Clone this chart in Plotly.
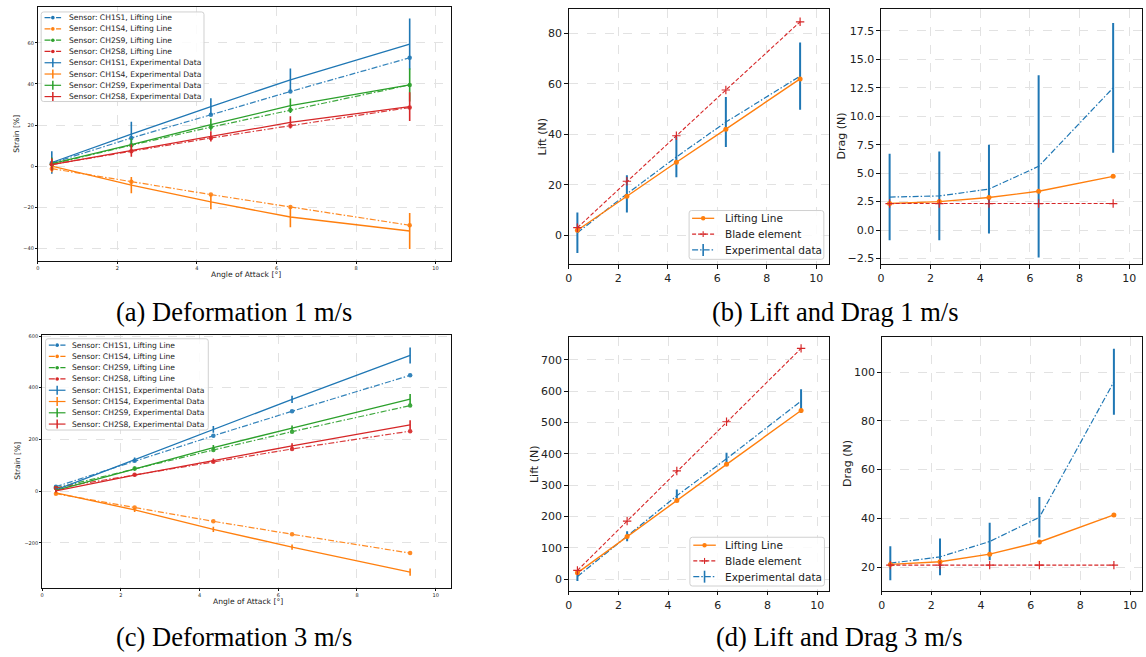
import plotly.graph_objects as go

W, H = 1146, 657

# ---------------- data ----------------
aoa = [0.35, 2.35, 4.35, 6.35, 9.35]
sensor_names = ["CH1S1", "CH1S4", "CH2S9", "CH2S8"]
sensor_colors = ["#1f77b4", "#ff7f0e", "#2ca02c", "#d62728"]

# (a) strain, 1 m/s  -- lifting line
ll1_ch1s1 = [1.5, 13.7, 25.0, 36.3, 52.7]
ll1_ch1s4 = [-1.2, -7.6, -13.8, -19.8, -28.7]
ll1_ch2s9 = [1.0, 10.2, 19.0, 27.3, 39.5]
ll1_ch2s8 = [0.8, 7.3, 13.7, 19.7, 28.5]
# (a) strain, 1 m/s  -- experimental
ex1_ch1s1 = [1.8, 15.6, 29.0, 42.0, 59.4]
ex1_ch1s4 = [0.0, -9.2, -17.4, -24.7, -31.5]
ex1_ch2s9 = [1.2, 10.5, 20.2, 29.4, 39.5]
ex1_ch2s8 = [0.8, 7.6, 14.5, 21.3, 29.0]
er1_ch1s1 = [5.5, 6.0, 4.0, 5.5, 12.4]
er1_ch1s4 = [3.0, 4.0, 3.5, 5.0, 8.7]
er1_ch2s9 = [3.0, 3.0, 3.0, 3.5, 8.0]
er1_ch2s8 = [3.0, 3.0, 2.5, 3.0, 7.0]

# (c) strain, 3 m/s  -- lifting line
ll3_ch1s1 = [17, 117, 214, 309, 448]
ll3_ch1s4 = [-10, -64, -117, -167, -240]
ll3_ch2s9 = [12, 87, 159, 230, 331]
ll3_ch2s8 = [12, 63, 114, 163, 232]
# (c) strain, 3 m/s  -- experimental
ex3_ch1s1 = [5, 122, 239, 355, 525]
ex3_ch1s4 = [-7, -73, -148, -217, -314]
ex3_ch2s9 = [3, 87, 168, 244, 356]
ex3_ch2s8 = [1, 62, 118, 175, 256]
er3_ch1s1 = [8, 8, 13, 14, 31]
er3_ch1s4 = [6, 8, 10, 10, 14]
er3_ch2s9 = [6, 8, 10, 10, 20]
er3_ch2s8 = [6, 6, 8, 10, 18]

# (b) lift / drag 1 m/s
lift1_ll = [2.0, 15.5, 28.9, 42.0, 61.9]
lift1_be = [3.0, 21.4, 39.4, 57.5, 84.5]
lift1_ex = [1.0, 16.4, 31.0, 44.8, 63.0]
lift1_er = [8.0, 7.4, 8.0, 9.9, 13.3]
drag1_ll = [2.33, 2.5, 2.86, 3.41, 4.72]
drag1_be = [2.33, 2.33, 2.33, 2.33, 2.33]
drag1_ex = [2.9, 3.0, 3.6, 5.6, 12.5]
drag1_er = [3.8, 3.9, 3.9, 8.0, 5.7]

# (d) lift / drag 3 m/s
lift3_ll = [20, 136, 251, 366, 538]
lift3_be = [27.5, 185, 345, 502, 736]
lift3_ex = [8, 137, 266, 384, 568]
lift3_er = [14, 16, 20, 19, 38]
drag3_ll = [21.1, 22.2, 25.3, 30.3, 41.4]
drag3_be = [20.8, 20.8, 20.8, 20.8, 20.8]
drag3_ex = [21.6, 24.2, 30.5, 40.4, 96.0]
drag3_er = [7.0, 7.5, 7.7, 8.3, 13.5]

captions = ["(a) Deformation 1 m/s", "(b) Lift and Drag 1 m/s",
            "(c) Deformation 3 m/s", "(d) Lift and Drag 3 m/s"]

# ---------------- helpers ----------------
def X(p):
    return p / W

def Y(p):
    return 1 - p / H

DASHDOT = "6px,2px,1.5px,2px"
DASHED = "4px,2px"
BLUE, ORANGE, GREEN, RED = sensor_colors

fig = go.Figure()

# panel geometry in pixels: (left, top, right, bottom)
boxes = {
    1: (34, 5, 449, 260),
    2: (566.7, 6.7, 827.7, 263.3),
    3: (880, 7.3, 1141.7, 263.3),
    4: (38.3, 334.3, 449, 588.3),
    5: (566.7, 336.7, 828.3, 591.7),
    6: (880.7, 336.7, 1141.7, 591.7),
}
ranges = {
    1: ([0, 10.4], [-46, 77.4], 2, 20, None, 5, 2),
    2: ([0, 10.51], [-11.4, 89.7], 2, 20, None, 11, 3.5),
    3: ([0, 10.5], [-2.99, 19.4], 2, 2.5, ".1f", 11, 3.5),
    4: ([0, 10.4], [-373.6, 605], 2, 200, None, 5, 2),
    5: ([0, 10.49], [-38, 771.8], 2, 100, None, 11, 3.5),
    6: ([0, 10.47], [10.2, 114.3], 2, 20, None, 11, 3.5),
}

layout_axes = {}
for i, (l, t, r, b) in boxes.items():
    xr, yr, dx, dy, yfmt, fs, tl = ranges[i]
    common = dict(showline=True, linecolor="#111", linewidth=1, mirror=True,
                  ticks="outside", ticklen=tl, tickwidth=1, tickcolor="#111",
                  showgrid=True, gridcolor="#e2e2e2", griddash="dash", gridwidth=1,
                  zeroline=False,
                  tickfont=dict(family="DejaVu Sans", size=fs, color="#222"))
    xa = dict(common, domain=[X(l), X(r)], range=xr, dtick=dx, tick0=0,
              anchor="y" if i == 1 else f"y{i}")
    ya = dict(common, domain=[Y(b), Y(t)], range=yr, dtick=dy, tick0=0,
              anchor="x" if i == 1 else f"x{i}")
    if yfmt:
        ya["tickformat"] = yfmt
    layout_axes["xaxis" if i == 1 else f"xaxis{i}"] = xa
    layout_axes["yaxis" if i == 1 else f"yaxis{i}"] = ya


def axref(i):
    return ("x", "y") if i == 1 else (f"x{i}", f"y{i}")


# ---------------- strain panels ----------------
def strain_panel(i, lls, exs, ers):
    xa, ya = axref(i)
    for vals, col in zip(lls, sensor_colors):
        fig.add_trace(go.Scatter(x=aoa, y=vals, xaxis=xa, yaxis=ya, mode="lines+markers",
                                 line=dict(color=col, width=1.2, dash=DASHDOT),
                                 marker=dict(color=col, size=4.5), opacity=0.9))
    for vals, errs, col in zip(exs, ers, sensor_colors):
        fig.add_trace(go.Scatter(x=aoa, y=vals, xaxis=xa, yaxis=ya, mode="lines",
                                 line=dict(color=col, width=1.3),
                                 error_y=dict(type="data", array=errs, visible=True,
                                              thickness=1.6, width=0, color=col)))


strain_panel(1, [ll1_ch1s1, ll1_ch1s4, ll1_ch2s9, ll1_ch2s8],
             [ex1_ch1s1, ex1_ch1s4, ex1_ch2s9, ex1_ch2s8],
             [er1_ch1s1, er1_ch1s4, er1_ch2s9, er1_ch2s8])
strain_panel(4, [ll3_ch1s1, ll3_ch1s4, ll3_ch2s9, ll3_ch2s8],
             [ex3_ch1s1, ex3_ch1s4, ex3_ch2s9, ex3_ch2s8],
             [er3_ch1s1, er3_ch1s4, er3_ch2s9, er3_ch2s8])


# ---------------- force panels ----------------
def force_panel(i, ex, er, ll, be):
    xa, ya = axref(i)
    fig.add_trace(go.Scatter(x=aoa, y=ex, xaxis=xa, yaxis=ya, mode="lines",
                             line=dict(color=BLUE, width=1.2, dash=DASHDOT),
                             error_y=dict(type="data", array=er, visible=True,
                                          thickness=2, width=0, color=BLUE)))
    fig.add_trace(go.Scatter(x=aoa, y=ll, xaxis=xa, yaxis=ya, mode="lines+markers",
                             line=dict(color=ORANGE, width=1.4),
                             marker=dict(color=ORANGE, size=5)))
    fig.add_trace(go.Scatter(x=aoa, y=be, xaxis=xa, yaxis=ya, mode="lines+markers",
                             line=dict(color=RED, width=1.1, dash=DASHED),
                             marker=dict(symbol="cross-thin", size=6, color=RED,
                                         line=dict(color=RED, width=1.2))))


force_panel(2, lift1_ex, lift1_er, lift1_ll, lift1_be)
force_panel(3, drag1_ex, drag1_er, drag1_ll, drag1_be)
force_panel(5, lift3_ex, lift3_er, lift3_ll, lift3_be)
force_panel(6, drag3_ex, drag3_er, drag3_ll, drag3_be)

# ---------------- legends (drawn manually, matplotlib-like) ----------------
shapes = []
annotations = []


def rounded_box(x0, y0, x1, y1, r=2.5):
    path = (f"M {X(x0 + r)},{Y(y0)} L {X(x1 - r)},{Y(y0)} Q {X(x1)},{Y(y0)} {X(x1)},{Y(y0 + r)} "
            f"L {X(x1)},{Y(y1 - r)} Q {X(x1)},{Y(y1)} {X(x1 - r)},{Y(y1)} "
            f"L {X(x0 + r)},{Y(y1)} Q {X(x0)},{Y(y1)} {X(x0)},{Y(y1 - r)} "
            f"L {X(x0)},{Y(y0 + r)} Q {X(x0)},{Y(y0)} {X(x0 + r)},{Y(y0)} Z")
    shapes.append(dict(type="path", xref="paper", yref="paper", path=path,
                       line=dict(color="#d0d0d0", width=1),
                       fillcolor="rgba(255,255,255,0.85)", layer="above"))


def legend(box, first_row, step, sx0, sx1, tx, fsize, entries, lw, msize, ebar):
    rounded_box(*box)
    for k, (label, col, dash, kind) in enumerate(entries):
        ry = first_row + k * step
        shapes.append(dict(type="line", xref="paper", yref="paper",
                           x0=X(sx0), x1=X(sx1), y0=Y(ry), y1=Y(ry),
                           line=dict(color=col, width=lw, dash=dash), layer="above"))
        cx = (sx0 + sx1) / 2
        if kind == "dot":
            shapes.append(dict(type="circle", xref="paper", yref="paper",
                               xsizemode="pixel", ysizemode="pixel",
                               xanchor=X(cx), yanchor=Y(ry),
                               x0=-msize, x1=msize, y0=-msize, y1=msize,
                               fillcolor=col, line=dict(width=0), layer="above"))
        elif kind == "bar":
            shapes.append(dict(type="line", xref="paper", yref="paper",
                               x0=X(cx), x1=X(cx), y0=Y(ry - ebar), y1=Y(ry + ebar),
                               line=dict(color=col, width=lw + 0.3), layer="above"))
        elif kind == "plus":
            shapes.append(dict(type="line", xref="paper", yref="paper",
                               x0=X(cx), x1=X(cx), y0=Y(ry - 3), y1=Y(ry + 3),
                               line=dict(color=col, width=1.1), layer="above"))
            shapes.append(dict(type="line", xref="paper", yref="paper",
                               x0=X(cx - 3), x1=X(cx + 3), y0=Y(ry), y1=Y(ry),
                               line=dict(color=col, width=1.1), layer="above"))
        annotations.append(dict(xref="paper", yref="paper", x=X(tx), y=Y(ry),
                                xanchor="left", yanchor="middle", showarrow=False,
                                text=label, font=dict(family="DejaVu Sans", size=fsize,
                                                      color="#222")))


strain_entries = ([(f"Sensor: {s}, Lifting Line", c, DASHDOT, "dot")
                   for s, c in zip(sensor_names, sensor_colors)] +
                  [(f"Sensor: {s}, Experimental Data", c, "solid", "bar")
                   for s, c in zip(sensor_names, sensor_colors)])
force_entries = [("Lifting Line", ORANGE, "solid", "dot"),
                 ("Blade element", RED, DASHED, "plus"),
                 ("Experimental data", BLUE, DASHDOT, "bar")]

legend((37.3, 10, 200.7, 100), 15.7, 11.33, 40.7, 57.3, 63.3, 7.6, strain_entries, 1.2, 1.8, 4.5)
legend((41.7, 338.3, 205, 430), 344.7, 11.33, 45, 61.7, 66.7, 7.6, strain_entries, 1.2, 1.8, 4.5)
legend((687.5, 209.5, 822.7, 258.5), 217.3, 15.9, 690.5, 712.7, 721.7, 10.5, force_entries, 1.3, 2.2, 6)
legend((688.3, 537.7, 823.3, 586.7), 545.7, 15.8, 691.7, 714.3, 721.7, 10.5, force_entries, 1.3, 2.2, 6)

# ---------------- axis titles ----------------
def label(text, x, y, size, angle=0):
    annotations.append(dict(xref="paper", yref="paper", x=X(x), y=Y(y), text=text,
                            showarrow=False, xanchor="center", yanchor="middle",
                            textangle=angle,
                            font=dict(family="DejaVu Sans", size=size, color="#222")))


label("Strain [%]", 13, 132.5, 7.6, -90)
label("Angle of Attack [°]", 243, 274, 7.6)
label("Strain [%]", 14, 461, 7.6, -90)
label("Angle of Attack [°]", 245, 602, 7.6)
label("Lift (N)", 540, 135, 11, -90)
label("Drag (N)", 840, 135, 11, -90)
label("Lift (N)", 533, 464, 11, -90)
label("Drag (N)", 847, 464, 11, -90)

# ---------------- captions ----------------
for text, (cx, cy) in zip(captions, [(231, 311), (834, 311), (231, 638), (838, 638)]):
    annotations.append(dict(xref="paper", yref="paper", x=X(cx), y=Y(cy), text=text,
                            showarrow=False, xanchor="center", yanchor="middle",
                            font=dict(family="Liberation Serif", size=26.5, color="black")))

fig.update_layout(width=W, height=H, margin=dict(l=0, r=0, t=0, b=0),
                  paper_bgcolor="white", plot_bgcolor="white", showlegend=False,
                  shapes=shapes, annotations=annotations, **layout_axes)

fig.write_html("out.html", config={"displayModeBar": False},
               post_script="document.body.style.margin='0px';")
